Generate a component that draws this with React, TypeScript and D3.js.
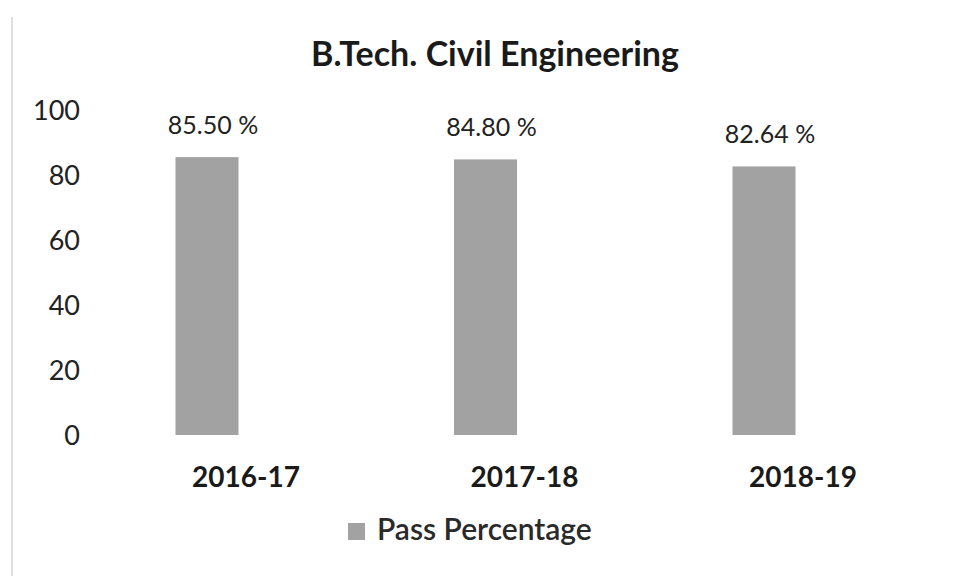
import React from "react";
import * as d3 from "d3";

const categories = ["2016-17", "2017-18", "2018-19"];
const passPercentage = [85.5, 84.8, 82.64];
const valueLabels = ["85.50 %", "84.80 %", "82.64 %"];
const yTicks = [0, 20, 40, 60, 80, 100];
const title = "B.Tech. Civil Engineering";
const legendLabel = "Pass Percentage";

const W = 959;
const H = 576;
const FONT = "Lato, 'Open Sans', sans-serif";
const BAR = "#a2a2a2";

export default function App() {
  const x = d3.scalePoint<string>().domain(categories).range([207, 764]);
  const y = d3.scaleLinear().domain([0, 100]).range([435, 110]);
  const barW = 63;

  return (
    <svg
      width={W}
      height={H}
      style={{ position: "absolute", left: 0, top: 0, background: "#fff" }}
      fontFamily={FONT}
    >
      <rect x={0} y={0} width={W} height={H} fill="#fff" />
      <line x1={12} x2={12} y1={17} y2={H} stroke="#d4d4d4" strokeWidth={1.5} />
      <text
        x={495}
        y={66}
        textAnchor="middle"
        fontSize={34}
        fontWeight={700}
        fill="#1a1a1a"
      >
        {title}
      </text>
      {yTicks.map((t) => (
        <text
          key={t}
          x={80}
          y={y(t)}
          dy="0.36em"
          textAnchor="end"
          fontSize={27}
          fill="#222"
        >
          {t}
        </text>
      ))}
      {categories.map((c, i) => {
        const cx = x(c) as number;
        const v = passPercentage[i];
        return (
          <g key={c}>
            <rect
              x={cx - barW / 2}
              y={y(v)}
              width={barW}
              height={y(0) - y(v)}
              fill={BAR}
            />
            <text
              x={cx + 6}
              y={y(v) - 23}
              textAnchor="middle"
              fontSize={25}
              fill="#222"
            >
              {valueLabels[i]}
            </text>
            <text
              x={cx + 39}
              y={487}
              textAnchor="middle"
              fontSize={28}
              fontWeight={700}
              fill="#1a1a1a"
            >
              {c}
            </text>
          </g>
        );
      })}
      <rect x={348} y={523} width={17} height={17} fill={BAR} />
      <text x={377} y={540} fontSize={30} fontWeight={600} fill="#2a2a2a">
        {legendLabel}
      </text>
    </svg>
  );
}
